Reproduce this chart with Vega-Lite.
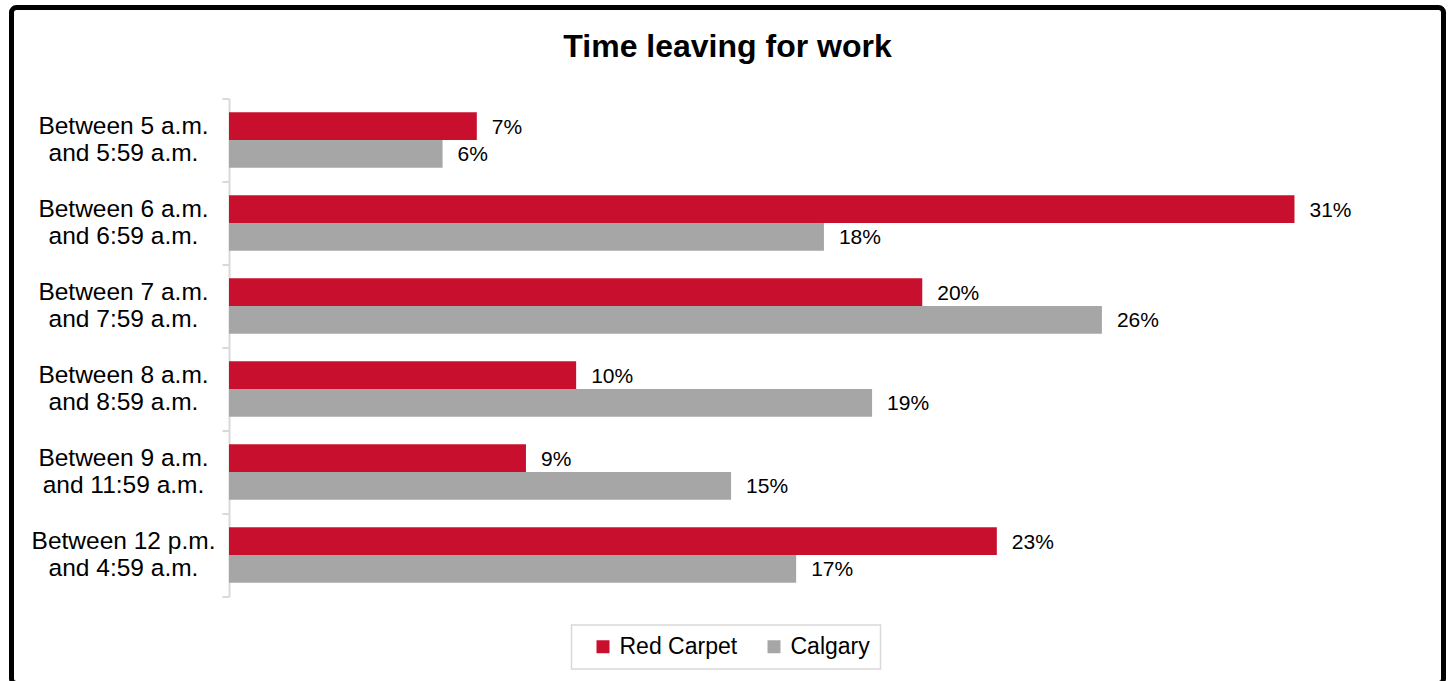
{
  "$schema": "https://vega.github.io/schema/vega-lite/v6.json",
  "autosize": "none",
  "width": 1432,
  "height": 676,
  "padding": {"left": 11.5, "top": 7.5, "right": 11.5, "bottom": -2.5},
  "background": "white",
  "config": {
    "view": {"stroke": "#000000", "strokeWidth": 5, "cornerRadius": 5},
    "font": "Liberation Sans",
    "legend": {"strokeWidth": 1.5}
  },
  "title": {
    "text": "Time leaving for work",
    "fontSize": 32,
    "fontWeight": "bold",
    "font": "Liberation Sans",
    "color": "#000000",
    "anchor": "middle",
    "frame": "group",
    "offset": -69
  },
  "data": {
    "values": [
      {"time": "Between 5 a.m. and 5:59 a.m.", "series": "Red Carpet", "value": 0.0731},
      {"time": "Between 5 a.m. and 5:59 a.m.", "series": "Calgary", "value": 0.0630},
      {"time": "Between 6 a.m. and 6:59 a.m.", "series": "Red Carpet", "value": 0.3143},
      {"time": "Between 6 a.m. and 6:59 a.m.", "series": "Calgary", "value": 0.1755},
      {"time": "Between 7 a.m. and 7:59 a.m.", "series": "Red Carpet", "value": 0.2045},
      {"time": "Between 7 a.m. and 7:59 a.m.", "series": "Calgary", "value": 0.2575},
      {"time": "Between 8 a.m. and 8:59 a.m.", "series": "Red Carpet", "value": 0.1024},
      {"time": "Between 8 a.m. and 8:59 a.m.", "series": "Calgary", "value": 0.1897},
      {"time": "Between 9 a.m. and 11:59 a.m.", "series": "Red Carpet", "value": 0.0876},
      {"time": "Between 9 a.m. and 11:59 a.m.", "series": "Calgary", "value": 0.1481},
      {"time": "Between 12 p.m. and 4:59 a.m.", "series": "Red Carpet", "value": 0.2265},
      {"time": "Between 12 p.m. and 4:59 a.m.", "series": "Calgary", "value": 0.1673}
    ]
  },
  "encoding": {
    "y": {
      "field": "time",
      "type": "nominal",
      "sort": null,
      "scale": {"range": [91, 589], "paddingInner": 0, "paddingOuter": 0},
      "axis": {
        "title": null,
        "orient": "left",
        "offset": -217.5,
        "grid": false,
        "domainColor": "#D9D9D9",
        "domainWidth": 2,
        "tickColor": "#D9D9D9",
        "tickWidth": 2,
        "tickSize": 7,
        "tickBand": "extent",
        "labelFontSize": 24.5,
        "labelFont": "Liberation Sans",
        "labelColor": "#000000",
        "labelAlign": "center",
        "labelBaseline": "middle",
        "labelPadding": 99,
        "labelOffset": -13.5,
        "labelLineHeight": 27,
        "labelLimit": 400,
        "labelExpr": "[slice(datum.label, 0, indexof(datum.label, ' and')), slice(datum.label, indexof(datum.label, ' and') + 1)]"
      }
    },
    "yOffset": {
      "field": "series",
      "type": "nominal",
      "sort": ["Red Carpet", "Calgary"],
      "scale": {"paddingInner": 0, "paddingOuter": 0.5}
    },
    "x": {
      "field": "value",
      "type": "quantitative",
      "scale": {"domain": [0, 0.35], "range": [217.5, 1404], "nice": false},
      "axis": null
    }
  },
  "layer": [
    {
      "mark": {"type": "bar"},
      "encoding": {
        "color": {
          "field": "series",
          "type": "nominal",
          "sort": ["Red Carpet", "Calgary"],
          "scale": {"domain": ["Red Carpet", "Calgary"], "range": ["#C8102E", "#A6A6A6"]},
          "legend": {
            "title": null,
            "orient": "none",
            "legendX": 560,
            "legendY": 617.5,
            "direction": "horizontal",
            "columns": 2,
            "symbolType": "square",
            "symbolSize": 169,
            "symbolStrokeWidth": 0,
            "labelFontSize": 23,
            "labelFont": "Liberation Sans",
            "labelColor": "#000000",
            "labelOffset": 5,
            "columnPadding": 15,
            "symbolOffset": 10,
            "padding": 10,
            "strokeColor": "#D9D9D9",
            "labelLimit": 300
          }
        }
      }
    },
    {
      "mark": {"type": "text", "align": "left", "baseline": "middle", "dx": 15, "dy": 1.5, "fontSize": 21, "font": "Liberation Sans", "color": "#000000"},
      "encoding": {
        "text": {"field": "value", "type": "quantitative", "format": ".0%"}
      }
    }
  ]
}
